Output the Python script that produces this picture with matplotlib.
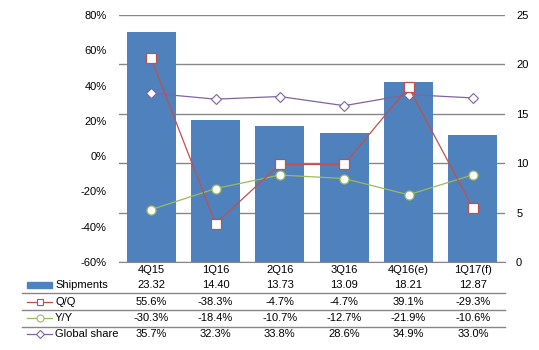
import matplotlib
matplotlib.use('Agg')
import matplotlib.pyplot as plt
from matplotlib.lines import Line2D
from matplotlib.patches import Rectangle
import matplotlib.transforms as mtransforms

plt.rcParams['font.family'] = ['Liberation Sans', 'DejaVu Sans']

# data
quarters = ['4Q15', '1Q16', '2Q16', '3Q16', '4Q16(e)', '1Q17(f)']
shipments = [23.32, 14.40, 13.73, 13.09, 18.21, 12.87]
qoq = [55.6, -38.3, -4.7, -4.7, 39.1, -29.3]
yoy = [-30.3, -18.4, -10.7, -12.7, -21.9, -10.6]
share = [35.7, 32.3, 33.8, 28.6, 34.9, 33.0]

BLUE = '#4F81BD'
RED = '#C0504D'
GREEN = '#9BBB59'
PURPLE = '#8064A2'
GRID = '#868686'
FS = 8

W, H = 539, 350
fig = plt.figure(figsize=(W / 100, H / 100), dpi=100)


def fx(px):
    return px / W


def fy(py):
    return 1 - py / H


# plot area in pixels: x 119-505, y 15-262
ax = fig.add_axes([fx(119), fy(262), fx(505) - fx(119), fy(15) - fy(262)])
x = list(range(len(quarters)))

# bars on the right-hand axis
ax.bar(x, shipments, width=0.76, color=BLUE, zorder=2)
ax.set_ylim(0, 25)
ax.set_yticks([0, 5, 10, 15, 20, 25])
ax.set_xlim(-0.5, len(quarters) - 0.5)
ax.set_xticks([])
ax.grid(axis='y', color=GRID, linewidth=1.0, zorder=0)
ax.set_axisbelow(True)
for s in ['top', 'left', 'right']:
    ax.spines[s].set_visible(False)
ax.spines['bottom'].set_color(GRID)

# percentage lines on the left-hand axis
ax2 = ax.twinx()
ax.yaxis.tick_right()
ax.yaxis.set_label_position('right')
ax.tick_params(axis='y', length=0, pad=8, labelsize=FS)
ax2.yaxis.tick_left()
ax2.set_ylim(-60, 80)
ax2.set_yticks(range(-60, 81, 20))
ax2.set_yticklabels([f'{v}%' for v in range(-60, 81, 20)])
ax2.tick_params(axis='y', length=0, pad=9, labelsize=FS)
for s in ['top', 'left', 'right', 'bottom']:
    ax2.spines[s].set_visible(False)

ax2.plot(x, share, color=PURPLE, lw=0.9, marker='D', ms=5,
         mfc='white', mec=PURPLE, mew=0.8)
ax2.plot(x, yoy, color=GREEN, lw=0.9, marker='o', ms=6.5,
         mfc='white', mec=GREEN, mew=0.9)
ax2.plot(x, qoq, color=RED, lw=0.9, marker='s', ms=6.5,
         mfc='white', mec=RED, mew=0.9)

# data table below the chart
trans = mtransforms.blended_transform_factory(ax.transData, fig.transFigure)
rows = [
    (285, [f'{v:.2f}' for v in shipments]),
    (302, [f'{v:.1f}%' for v in qoq]),
    (318, [f'{v:.1f}%' for v in yoy]),
    (334, [f'{v:.1f}%' for v in share]),
]
for i, q in enumerate(quarters):
    ax.text(i, fy(270), q, transform=trans, ha='center', va='center', fontsize=FS)
for py, vals in rows:
    for i, v in enumerate(vals):
        ax.text(i, fy(py), v, transform=trans, ha='center', va='center', fontsize=FS)

labels = ['Shipments', 'Q/Q', 'Y/Y', 'Global share']
for (py, _), lab in zip(rows, labels):
    fig.text(fx(55), fy(py), lab, ha='left', va='center', fontsize=FS)

# row separators
for py in [293, 310, 326.5]:
    fig.add_artist(Line2D([fx(22), fx(505)], [fy(py), fy(py)], color=GRID, lw=1.0))

# legend keys in the table
fig.add_artist(Rectangle((fx(27), fy(288)), fx(52) - fx(27), fy(282) - fy(288),
                         transform=fig.transFigure, color=BLUE))
keys = [(302, RED, 's'), (318, GREEN, 'o'), (334, PURPLE, 'D')]
for py, c, m in keys:
    fig.add_artist(Line2D([fx(27), fx(52)], [fy(py), fy(py)], color=c, lw=0.9))
    fig.add_artist(Line2D([fx(39.5)], [fy(py)], color=c, marker=m,
                          ms=5 if m != 'D' else 4, mfc='white', mec=c, mew=0.8))

fig.savefig('out.png', dpi=100)
